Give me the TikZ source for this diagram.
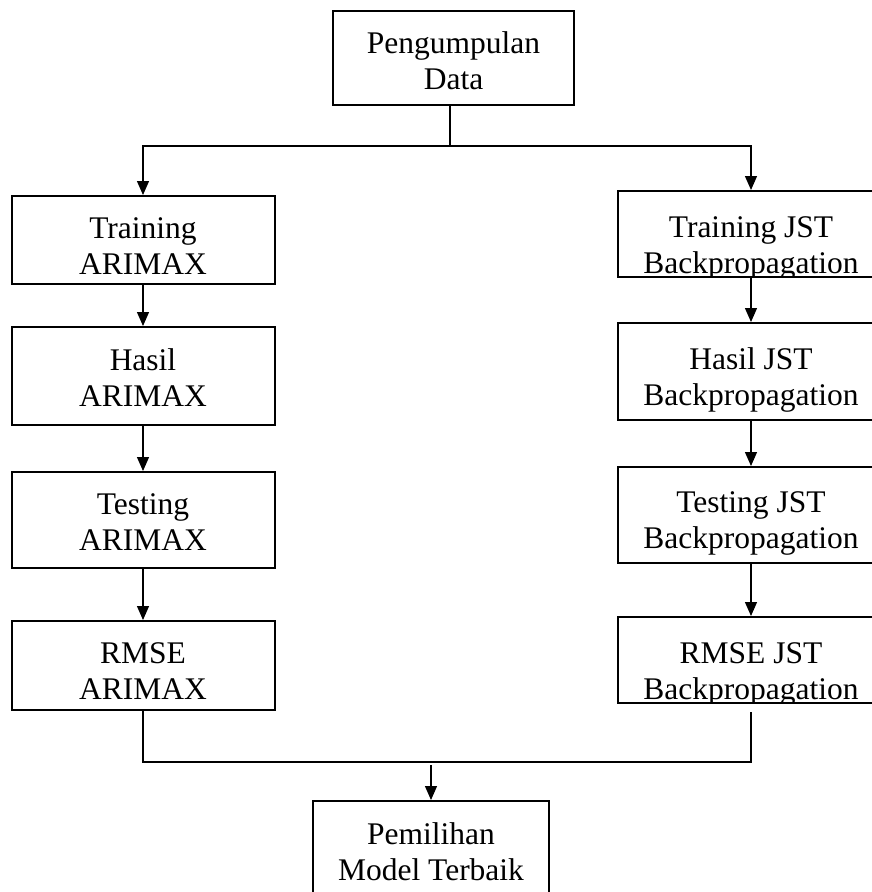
\documentclass[tikz,border=0pt]{standalone}
\usepackage{fontspec}
\setmainfont{Liberation Serif}
\usetikzlibrary{arrows.meta,positioning}

\tikzset{
  box/.style={draw, line width=2pt, minimum width=263pt, anchor=north, inner sep=0pt},
  txt/.style={align=center, inner sep=0pt, font=\fontsize{31.5}{36}\selectfont},
  line/.style={line width=1.3pt},
  arr/.style={line, -{Triangle[length=14pt,width=12pt]}}
}

\begin{document}
\begin{tikzpicture}[x=1pt,y=-1pt]
  \useasboundingbox (0,0) rectangle (871,892);
  % boxes
  \node[box, minimum width=241pt, minimum height=94pt] (data) at (453.5,10) {};
  \node[box, minimum height=88pt] (trainA) at (143,195) {};
  \node[box, minimum height=98pt] (hasilA) at (143,326) {};
  \node[box, minimum height=96pt] (testA)  at (143,471) {};
  \node[box, minimum height=89pt] (rmseA)  at (143,620) {};
  \node[box, minimum width=266pt, minimum height=86pt] (trainB) at (751,190) {};
  \node[box, minimum width=266pt, minimum height=97pt] (hasilB) at (751,322) {};
  \node[box, minimum width=266pt, minimum height=96pt] (testB)  at (751,466) {};
  \node[box, minimum width=266pt, minimum height=86pt] (rmseB)  at (751,616) {};
  \node[box, minimum width=236pt, minimum height=110pt] (pick) at (431,800) {};
  % texts
  \node[txt, below=21pt of data.north]   {Pengumpulan\\Data};
  \node[txt, below=22pt of trainA.north] {Training\\ARIMAX};
  \node[txt, below=22pt of hasilA.north] {Hasil\\ARIMAX};
  \node[txt, below=22pt of testA.north]  {Testing\\ARIMAX};
  \node[txt, below=22pt of rmseA.north]  {RMSE\\ARIMAX};
  \node[txt, below=25pt of hasilB.north] {Hasil JST\\Backpropagation};
  \node[txt, below=25pt of testB.north]  {Testing JST\\Backpropagation};
  \node[txt, below=22pt of pick.north]   {Pemilihan\\Model Terbaik};
  \begin{scope}
    \clip (trainB.north west) rectangle ([yshift=1pt]trainB.south east);
    \node[txt, below=26pt of trainB.north] {Training JST\\Backpropagation};
  \end{scope}
  \begin{scope}
    \clip (rmseB.north west) rectangle ([yshift=1pt]rmseB.south east);
    \node[txt, below=26pt of rmseB.north] {RMSE JST\\Backpropagation};
  \end{scope}
  % connectors
  \coordinate (fork) at (450,146);
  \coordinate (join) at (431,762);
  \draw[line] (data.south -| fork) -- (fork);
  \draw[arr] (fork) -| (trainA.north);
  \draw[arr] (fork) -| (trainB.north);
  \draw[arr] (trainA) -- (hasilA);
  \draw[arr] (hasilA) -- (testA);
  \draw[arr] (testA) -- (rmseA);
  \draw[arr] (trainB) -- (hasilB);
  \draw[arr] (hasilB) -- (testB);
  \draw[arr] (testB) -- (rmseB);
  \draw[line] (rmseA.south) |- (join) -| ([yshift=-8pt]rmseB.south);
  \draw[arr] ([yshift=-3pt]join) -- (pick.north);
\end{tikzpicture}
\end{document}
